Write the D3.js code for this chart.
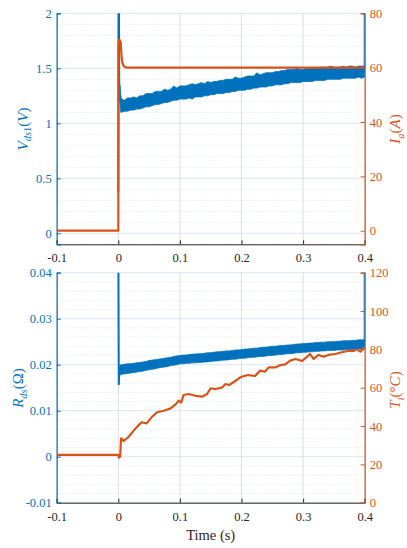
<!DOCTYPE html>
<html><head><meta charset="utf-8">
<script src="https://cdn.jsdelivr.net/npm/d3@7"></script>
<style>body{margin:0;background:#fff}svg{display:block}
svg text{font-family:"Liberation Serif","DejaVu Serif","Times New Roman",serif}</style>
</head><body>
<svg id="chart" width="407" height="548"></svg>
<script>
// ---- tick values ----
const timeTicks = [-0.1, 0, 0.1, 0.2, 0.3, 0.4];
const vdsTicks = [0, 0.5, 1, 1.5, 2];
const iaTicks = [0, 20, 40, 60, 80];
const rdsTicks = [-0.01, 0, 0.01, 0.02, 0.03, 0.04];
const tiTicks = [0, 20, 40, 60, 80, 100, 120];

// ---- sample times of the noisy on-state band (s) ----
const bandTime = [0.0015, 0.003, 0.004,
  0.005,0.01,0.015,0.02,0.025,0.03,0.035,0.04,0.045,0.05,
  0.055,0.06,0.065,0.07,0.075,0.08,0.085,0.09,0.095,0.1,
  0.105,0.11,0.115,0.12,0.125,0.13,0.135,0.14,0.145,0.15,
  0.155,0.16,0.165,0.17,0.175,0.18,0.185,0.19,0.195,0.2,
  0.205,0.21,0.215,0.22,0.225,0.23,0.235,0.24,0.245,0.25,
  0.255,0.26,0.265,0.27,0.275,0.28,0.285,0.29,0.295,0.3,
  0.305,0.31,0.315,0.32,0.325,0.33,0.335,0.34,0.345,0.35,
  0.355,0.36,0.365,0.37,0.375,0.38,0.385,0.39,0.395,0.4];

// Vds1 band envelope (V)
const vdsHigh = [1.37, 1.34, 1.26,
  1.22,1.21,1.23,1.23,1.24,1.23,1.25,1.25,1.27,1.27,
  1.27,1.29,1.29,1.29,1.31,1.30,1.31,1.34,1.32,1.34,
  1.34,1.34,1.35,1.36,1.35,1.36,1.37,1.36,1.38,1.37,
  1.38,1.38,1.39,1.39,1.40,1.40,1.40,1.42,1.41,1.41,
  1.42,1.43,1.43,1.43,1.46,1.44,1.45,1.46,1.46,1.46,
  1.47,1.47,1.48,1.48,1.49,1.49,1.49,1.50,1.49,1.49,
  1.50,1.50,1.50,1.51,1.50,1.51,1.51,1.51,1.52,1.51,
  1.51,1.51,1.52,1.51,1.52,1.52,1.51,1.52,1.52,1.52];
const vdsLow = [1.22, 1.18, 1.10,
  1.10,1.11,1.11,1.12,1.12,1.13,1.13,1.14,1.15,1.15,
  1.16,1.17,1.17,1.18,1.19,1.19,1.20,1.21,1.21,1.22,
  1.22,1.22,1.23,1.22,1.24,1.24,1.24,1.25,1.25,1.26,
  1.26,1.27,1.27,1.27,1.28,1.28,1.29,1.29,1.30,1.30,
  1.30,1.31,1.31,1.32,1.32,1.33,1.33,1.33,1.34,1.34,
  1.35,1.35,1.35,1.36,1.36,1.37,1.37,1.37,1.37,1.38,
  1.38,1.38,1.38,1.39,1.39,1.39,1.39,1.40,1.40,1.40,
  1.40,1.40,1.41,1.41,1.41,1.41,1.41,1.42,1.41,1.42];
// Vds1 switching edges
const vdsOnTime = [0, 0.0004, 0.001, 0.0015];
const vdsOn = [0.38, 2.15, 2.15, 1.33];
const vdsOffTime = [0.4, 0.4];
const vdsOff = [1.46, 2.15];

// Load current Ia (A)
const iaTime = [-0.1, 0, 0.0004, 0.001, 0.0025, 0.004, 0.0048, 0.0056, 0.0068, 0.0085, 0.011, 0.015, 0.4];
const ia = [0, 0, 68.5, 70.3, 70.1, 69.2, 66, 63.2, 61.6, 60.7, 60.2, 60, 60];

// Rds band envelope (Ohm)
const rdsHigh = [0.0197, 0.0199, 0.0200,
  0.0200,0.0201,0.0202,0.0202,0.0203,0.0204,0.0205,0.0206,0.0207,0.0209,
  0.0210,0.0211,0.0212,0.0213,0.0214,0.0215,0.0216,0.0218,0.0219,0.0220,
  0.0221,0.0221,0.0222,0.0223,0.0223,0.0224,0.0224,0.0225,0.0226,0.0226,
  0.0227,0.0228,0.0228,0.0229,0.0230,0.0230,0.0231,0.0232,0.0232,0.0233,
  0.0234,0.0234,0.0235,0.0236,0.0236,0.0237,0.0238,0.0238,0.0239,0.0240,
  0.0240,0.0241,0.0242,0.0242,0.0243,0.0243,0.0244,0.0245,0.0245,0.0246,
  0.0246,0.0247,0.0247,0.0248,0.0248,0.0249,0.0249,0.0250,0.0250,0.0250,
  0.0251,0.0251,0.0252,0.0252,0.0252,0.0253,0.0253,0.0254,0.0254,0.0254];
const rdsLow = [0.0172, 0.0177, 0.0179,
  0.0179,0.0180,0.0181,0.0182,0.0183,0.0184,0.0185,0.0186,0.0188,0.0189,
  0.0190,0.0191,0.0193,0.0194,0.0195,0.0196,0.0198,0.0199,0.0200,0.0202,
  0.0202,0.0203,0.0203,0.0204,0.0204,0.0205,0.0205,0.0206,0.0206,0.0207,
  0.0208,0.0208,0.0209,0.0210,0.0210,0.0211,0.0212,0.0212,0.0213,0.0214,
  0.0214,0.0215,0.0216,0.0216,0.0217,0.0218,0.0218,0.0219,0.0220,0.0220,
  0.0221,0.0222,0.0222,0.0223,0.0224,0.0224,0.0225,0.0226,0.0226,0.0227,
  0.0227,0.0228,0.0228,0.0229,0.0229,0.0230,0.0230,0.0231,0.0231,0.0231,
  0.0232,0.0232,0.0232,0.0233,0.0233,0.0233,0.0234,0.0234,0.0234,0.0235];
const rdsOnTime = [0, 0.0008, 0.0015];
const rdsOn = [0.05, 0.0156, 0.0185];
const rdsOffTime = [0.4, 0.4];
const rdsOff = [0.0243, 0.05];

// Junction temperature Ti (degC)
const tiTime = [-0.1, 0, 0.001, 0.003, 0.0045, 0.0087, 0.017, 0.025, 0.033, 0.038, 0.041, 0.046,
  0.055, 0.063, 0.074, 0.085, 0.093, 0.098, 0.102, 0.106, 0.114, 0.125, 0.136, 0.144, 0.15,
  0.158, 0.169, 0.174, 0.18, 0.188, 0.196, 0.2, 0.211, 0.222, 0.23, 0.238, 0.244, 0.255,
  0.263, 0.271, 0.279, 0.288, 0.298, 0.306, 0.311, 0.317, 0.325, 0.333, 0.341, 0.352,
  0.363, 0.374, 0.382, 0.387, 0.393, 0.398, 0.4];
const ti = [25, 25, 23.5, 24, 33.6, 32.2, 34.4, 37.6, 40.5, 42, 41.7, 41.4,
  44.9, 47.2, 48, 49.2, 51.3, 53.2, 52.2, 56.2, 56.7, 55.8, 55.3, 56.7, 59.7,
  59.3, 60.2, 61.9, 61.4, 63.1, 64.9, 65.7, 66.6, 66.1, 68.9, 68.3, 70.6, 70.6,
  71.8, 72.2, 74.1, 75, 73.9, 75.9, 77.6, 75, 77.1, 76.2, 77.1, 77.6,
  78.5, 79.3, 79.2, 80, 78.8, 80.6, 81];

// ---- styling ----
const BLUE = "#0072BD", ORANGE = "#D95319", DARK = "#262626";
const FAMILY = "'Liberation Serif','DejaVu Serif','Times New Roman',serif";
const svg = d3.select("#chart");

const x = d3.scaleLinear().domain([-0.1, 0.4]).range([56.7, 364.7]);

function styleTicks(sel, color) {
  sel.attr("font-family", FAMILY).attr("font-size", 12.5);
  sel.selectAll("text").attr("fill", color)
    .attr("font-family", FAMILY).attr("font-size", 12.5);
}

function panel(cfg) {
  const g = svg.append("g");
  const [y0, y1] = [cfg.bottom, cfg.top];
  const yL = d3.scaleLinear().domain(cfg.leftDomain).range([y0, y1]);
  const yR = d3.scaleLinear().domain(cfg.rightDomain).range([y0, y1]);
  const clipId = "clip" + cfg.id;
  svg.append("clipPath").attr("id", clipId).append("rect")
    .attr("x", x.range()[0]).attr("y", y1)
    .attr("width", x.range()[1] - x.range()[0]).attr("height", y0 - y1);

  // minor grid (dotted)
  const ld = cfg.leftDomain, step = cfg.minorStep;
  const minor = d3.range(Math.round(ld[0] / step), Math.round(ld[1] / step) + 1)
    .map(k => k * step).filter(v => !cfg.leftTicks.some(t => Math.abs(t - v) < step / 10));
  g.append("g").selectAll("line").data(minor).join("line")
    .attr("x1", x.range()[0]).attr("x2", x.range()[1])
    .attr("y1", d => yL(d)).attr("y2", d => yL(d))
    .attr("stroke", "#cddfee").attr("stroke-width", 0.8).attr("stroke-dasharray", "1,2");
  // major grid
  g.append("g").selectAll("line").data(cfg.leftTicks).join("line")
    .attr("x1", x.range()[0]).attr("x2", x.range()[1])
    .attr("y1", d => yL(d)).attr("y2", d => yL(d))
    .attr("stroke", "#d9e7f2").attr("stroke-width", 1);
  g.append("g").selectAll("line").data(timeTicks).join("line")
    .attr("x1", d => x(d)).attr("x2", d => x(d))
    .attr("y1", y1).attr("y2", y0)
    .attr("stroke", "#dedede").attr("stroke-width", 1);

  // axes
  const ax = g.append("g").attr("transform", `translate(0,${y0})`)
    .call(d3.axisBottom(x).tickValues(timeTicks).tickSize(-4).tickPadding(9)
      .tickFormat(d => String(d)));
  ax.select(".domain").attr("stroke", DARK).attr("stroke-width", 1);
  ax.selectAll(".tick line").attr("stroke", DARK);
  styleTicks(ax, DARK);

  const al = g.append("g").attr("transform", `translate(${x.range()[0]},0)`)
    .call(d3.axisLeft(yL).tickValues(cfg.leftTicks).tickSize(-4).tickPadding(5)
      .tickFormat(d => String(d)));
  al.select(".domain").attr("stroke", BLUE).attr("stroke-width", 1.2);
  al.selectAll(".tick line").attr("stroke", BLUE);
  styleTicks(al, BLUE);

  const ar = g.append("g").attr("transform", `translate(${x.range()[1]},0)`)
    .call(d3.axisRight(yR).tickValues(cfg.rightTicks).tickSize(-4).tickPadding(5)
      .tickFormat(d => String(d)));
  ar.select(".domain").attr("stroke", ORANGE).attr("stroke-width", 1.2);
  ar.selectAll(".tick line").attr("stroke", ORANGE);
  styleTicks(ar, ORANGE);

  // data
  const dg = g.append("g").attr("clip-path", `url(#${clipId})`);
  const band = bandTime.map((t, i) => ({ t, hi: cfg.hi[i], lo: cfg.lo[i] }));
  dg.append("path").datum(band)
    .attr("d", d3.area().x(d => x(d.t)).y0(d => yL(d.lo)).y1(d => yL(d.hi)))
    .attr("fill", BLUE).attr("stroke", BLUE).attr("stroke-width", 0.8);
  const lineL = d3.line().x(d => x(d[0])).y(d => yL(d[1]));
  const lineR = d3.line().x(d => x(d[0])).y(d => yR(d[1]));
  [[cfg.onT, cfg.on], [cfg.offT, cfg.off]].forEach(([tt, vv]) => {
    dg.append("path").datum(tt.map((t, i) => [t, vv[i]])).attr("d", lineL)
      .attr("fill", "none").attr("stroke", BLUE).attr("stroke-width", 2);
  });
  dg.append("path").datum(cfg.rT.map((t, i) => [t, cfg.rV[i]])).attr("d", lineR)
    .attr("fill", "none").attr("stroke", ORANGE).attr("stroke-width", 2.2)
    .attr("stroke-linejoin", "round");
}

panel({ id: "top", top: 13.3, bottom: 244.3,
  leftDomain: [-0.1, 2], rightDomain: [-5, 80], minorStep: 0.1,
  leftTicks: vdsTicks, rightTicks: iaTicks,
  hi: vdsHigh, lo: vdsLow, onT: vdsOnTime, on: vdsOn, offT: vdsOffTime, off: vdsOff,
  rT: iaTime, rV: ia });

panel({ id: "bot", top: 272.7, bottom: 502.7,
  leftDomain: [-0.01, 0.04], rightDomain: [0, 120], minorStep: 0.002,
  leftTicks: rdsTicks, rightTicks: tiTicks,
  hi: rdsHigh, lo: rdsLow, onT: rdsOnTime, on: rdsOn, offT: rdsOffTime, off: rdsOff,
  rT: tiTime, rV: ti });

// ---- axis titles ----
function ylabel(cx, cy, color, parts) {
  const t = svg.append("text")
    .attr("transform", `translate(${cx},${cy}) rotate(-90)`)
    .attr("text-anchor", "middle").attr("fill", color)
    .attr("font-family", FAMILY).attr("font-size", 15);
  parts.forEach(p => {
    const s = t.append("tspan").text(p.s);
    if (p.i) s.attr("font-style", "italic");
    if (p.sub) s.attr("font-size", 10.5);
    if (p.dy) s.attr("dy", p.dy);
  });
}
ylabel(27.5, 129, BLUE, [
  { s: "V", i: 1 }, { s: "ds", i: 1, sub: 1, dy: 3.5 }, { s: "1", sub: 1 },
  { s: "(", dy: -3.5 }, { s: "V", i: 1 }, { s: ")" }]);
ylabel(400, 129, ORANGE, [
  { s: "I", i: 1 }, { s: "a", i: 1, sub: 1, dy: 3.5 }, { s: "(", dy: -3.5 }, { s: "A", i: 1 }, { s: ")" }]);
ylabel(23, 388, BLUE, [
  { s: "R", i: 1 }, { s: "ds", i: 1, sub: 1, dy: 3.5 }, { s: "(", dy: -3.5 }, { s: "Ω" }, { s: ")" }]);
ylabel(400, 390, ORANGE, [
  { s: "T", i: 1 }, { s: "i", i: 1, sub: 1, dy: 3.5 }, { s: "(", dy: -3.5 }, { s: "°" }, { s: "C", i: 1 }, { s: ")" }]);

svg.append("text").attr("x", 210.7).attr("y", 540).attr("text-anchor", "middle")
  .attr("fill", DARK).attr("font-family", FAMILY).attr("font-size", 14.5).text("Time (s)");
</script>
</body></html>
